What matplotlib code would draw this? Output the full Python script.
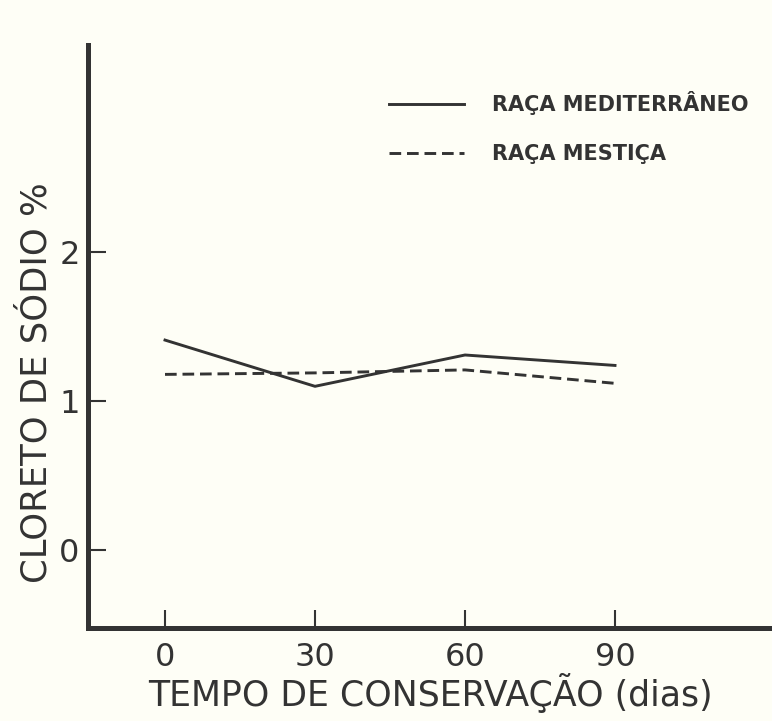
import matplotlib
matplotlib.use('Agg')
import matplotlib.pyplot as plt

# Dias de conservacao e cloreto de sodio (%)
dias = [0, 30, 60, 90]
mediterraneo = [1.41, 1.10, 1.31, 1.24]
mestica = [1.18, 1.19, 1.21, 1.12]

x_ticks = [0, 30, 60, 90]
y_ticks = [0, 1, 2]

bg = '#fefef6'
ink = '#333333'

plt.rcParams['font.family'] = ['DejaVu Sans']

fig = plt.figure(figsize=(7.72, 7.21), dpi=100, facecolor=bg)
ax = fig.add_axes([0.114, 0.129, 0.886, 0.809], facecolor=bg)

ax.plot(dias, mediterraneo, color=ink, lw=2.1, label='RAÇA MEDITERRÂNEO')
ax.plot(dias, mestica, color=ink, lw=2.1, ls=(0, (4, 2)), label='RAÇA MESTIÇA')

ax.set_xlim(-15.4, 121.4)
ax.set_ylim(-0.52, 3.39)

for s in ['top', 'right']:
    ax.spines[s].set_visible(False)
for s in ['left', 'bottom']:
    ax.spines[s].set_linewidth(3.6)
    ax.spines[s].set_color(ink)

ax.set_xticks(x_ticks)
ax.set_yticks(y_ticks)
ax.tick_params(direction='in', length=13, width=1.5, color=ink,
               labelsize=23, labelcolor=ink)
ax.tick_params(axis='x', pad=10)
ax.tick_params(axis='y', pad=6)

ax.set_xlabel('TEMPO DE CONSERVAÇÃO (dias)', fontsize=25, color=ink, labelpad=0)
ax.set_ylabel('CLORETO DE SÓDIO %', fontsize=25.5, color=ink)
ax.yaxis.set_label_coords(-0.05, 0.42)

ax.legend(loc='upper left', bbox_to_anchor=(0.413, 0.952), frameon=False,
          prop={'size': 15, 'weight': 'bold'}, handlelength=3.6,
          handletextpad=1.35, labelspacing=1.37, labelcolor=ink)

fig.savefig('out.png', dpi=100, facecolor=bg)
